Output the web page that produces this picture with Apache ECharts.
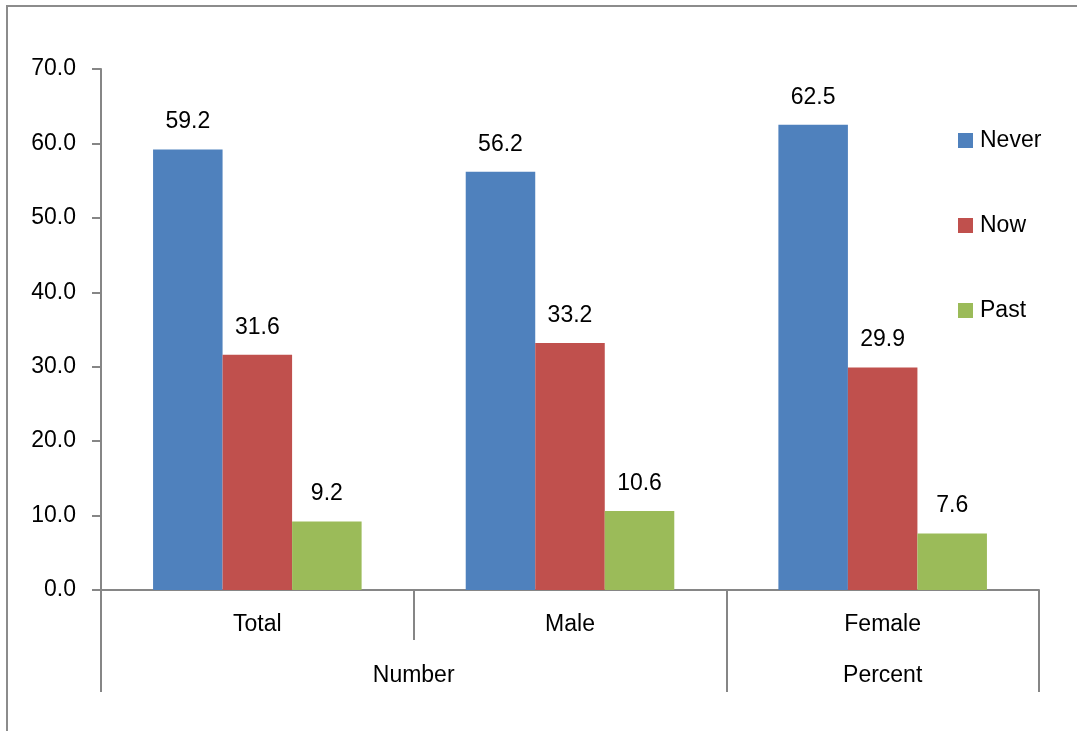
<!DOCTYPE html>
<html><head><meta charset="utf-8">
<script src="https://cdn.jsdelivr.net/npm/echarts@6/dist/echarts.min.js"></script>
<style>
html,body{margin:0;padding:0;background:#fff;}
#chart{width:1077px;height:731px;position:absolute;left:0;top:0;}
#frame{position:absolute;left:6px;top:5px;width:1200px;height:900px;border:2px solid #8c8c8c;pointer-events:none;}
</style></head>
<body>
<div id="chart"></div>
<div id="frame"></div>
<script>
const categories = ['Total', 'Male', 'Female'];
const groupLabels = ['', '', 'Number', '', '', 'Percent', ''];
const seriesNames = ['Never', 'Now', 'Past'];
const never = [59.2, 56.2, 62.5];
const now = [31.6, 33.2, 29.9];
const past = [9.2, 10.6, 7.6];
const colors = ['#4F81BD', '#C0504D', '#9BBB59'];

const font = 'Liberation Sans, Arial, sans-serif';
const fs = 23;
const axisColor = '#868686';

const chart = echarts.init(document.getElementById('chart'));
const mk = (name, data, i) => ({
  name, type: 'bar', data, xAxisIndex: 0,
  itemStyle: { color: colors[i] },
  barGap: '0%', barCategoryGap: '33.3%',
  label: { show: true, position: 'top', distance: 16, color: '#000', fontFamily: font, fontSize: fs,
           formatter: p => p.value.toFixed(1) }
});
chart.setOption({
  animation: false,
  textStyle: { fontFamily: font },
  grid: { left: 101, right: 38, top: 69, bottom: 141, containLabel: false },
  legend: {
    orient: 'vertical', left: 958, top: 129, padding: 0,
    itemWidth: 15, itemHeight: 15, itemGap: 62,
    icon: 'rect',
    textStyle: { color: '#000', fontSize: fs, fontFamily: font, lineHeight: 22, padding: [0,0,0,2] },
    data: seriesNames
  },
  xAxis: [
    {
      type: 'category', data: categories, position: 'bottom',
      axisLine: { show: true, lineStyle: { color: axisColor, width: 2 } },
      axisTick: { show: true, length: 50, lineStyle: { color: axisColor, width: 2 } },
      axisLabel: { color: '#000', fontSize: fs, fontFamily: font, margin: 23 }
    },
    {
      type: 'category', data: groupLabels, position: 'bottom', boundaryGap: false,
      axisLine: { show: false },
      axisTick: { show: true, length: 102, interval: (i) => i === 0 || i === 4 || i === 6,
                  lineStyle: { color: axisColor, width: 2 } },
      axisLabel: { color: '#000', fontSize: fs, fontFamily: font, margin: 74,
                   interval: (i) => i === 2 || i === 5 }
    }
  ],
  yAxis: {
    type: 'value', min: 0, max: 70, interval: 10,
    axisLine: { show: true, lineStyle: { color: axisColor, width: 2 } },
    axisTick: { show: true, length: 9, lineStyle: { color: axisColor, width: 2 } },
    splitLine: { show: false },
    axisLabel: { color: '#000', fontSize: fs, fontFamily: font, margin: 25, formatter: v => v.toFixed(1) }
  },
  series: [mk('Never', never, 0), mk('Now', now, 1), mk('Past', past, 2)]
});
</script>
</body></html>
